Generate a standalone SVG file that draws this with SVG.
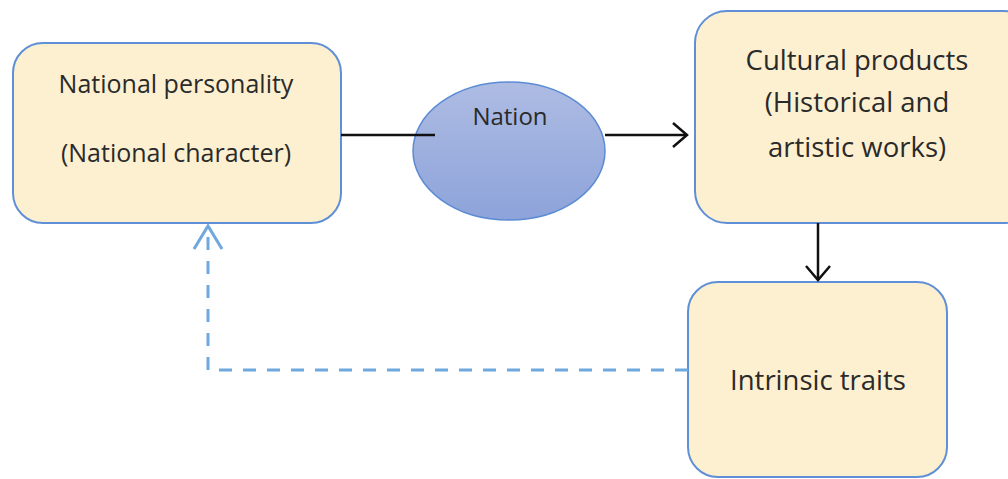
<svg xmlns="http://www.w3.org/2000/svg" width="1008" height="479" viewBox="0 0 1008 479">
<style>
.box{fill:#fdf0d0;stroke:#5f8fd6;stroke-width:2}
.t{font-family:"Open Sans","Liberation Sans",sans-serif;fill:#2a2a2a;text-anchor:middle}
.s1{font-size:25px}
.s2{font-size:27.5px}
.s3{font-size:24px}
.solid{stroke:#111;stroke-width:2.5;fill:none}
.dash{stroke:#6fa7df;stroke-width:3;fill:none;stroke-dasharray:13 11}
</style>
<defs>
<linearGradient id="eg" x1="0" y1="0" x2="0" y2="1">
<stop offset="0" stop-color="#aebce3"/>
<stop offset="1" stop-color="#8da3da"/>
</linearGradient>
</defs>
<g id="n1">
<rect class="box" x="13" y="43" width="328" height="180" rx="30"/>
<text class="t s1" x="176" y="93">National personality</text>
<text class="t s1" x="176" y="162">(National character)</text>
</g>
<g id="n2">
<ellipse cx="509" cy="151" rx="96" ry="69" fill="url(#eg)" stroke="#5b8bd4" stroke-width="1.5"/>
<text class="t s3" x="510" y="125">Nation</text>
</g>
<g id="n3">
<rect class="box" x="695" y="11" width="340" height="212" rx="32"/>
<text class="t s2" x="857" y="70">Cultural products</text>
<text class="t s2" x="857" y="112">(Historical and</text>
<text class="t s2" x="857" y="157">artistic works)</text>
</g>
<g id="n4">
<rect class="box" x="688" y="282" width="259" height="195" rx="30"/>
<text class="t s2" x="818" y="390">Intrinsic traits</text>
</g>
<g id="connectors">
<line class="solid" x1="341" y1="135" x2="435" y2="135"/>
<line class="solid" x1="605" y1="135" x2="687" y2="135"/>
<polyline class="solid" points="673,123 687,135 673,147"/>
<line class="solid" x1="818" y1="223" x2="818" y2="280"/>
<polyline class="solid" points="806,266 818,280 830,266"/>
<polyline class="dash" points="688,370 208,370 208,227"/>
<polyline fill="none" stroke="#6fa7df" stroke-width="3" points="194,249 208,226 222,249"/>
</g>
</svg>
